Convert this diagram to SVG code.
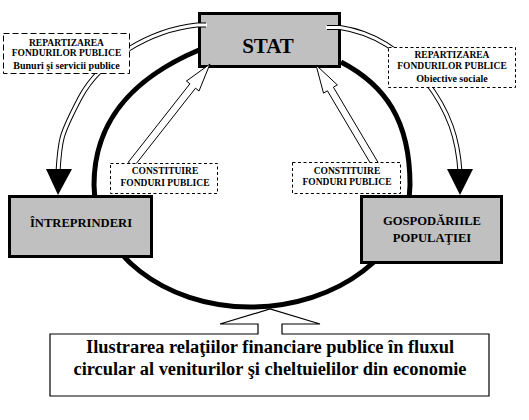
<svg xmlns="http://www.w3.org/2000/svg" width="529" height="420" viewBox="0 0 529 420">
<style>
text{font-family:"Liberation Serif","Times New Roman",serif;font-weight:bold;fill:#000;text-anchor:middle}
.main{fill:#c0c0c0;stroke:#000;stroke-width:3}
.dashA{fill:#fff;stroke:#000;stroke-width:1;stroke-dasharray:6 3}
.dashB{fill:#fff;stroke:#000;stroke-width:1;stroke-dasharray:3 2.5}
.small{font-size:9.5px}
.low{font-size:10px}
.mid{font-size:12.6px}
.big{font-size:18.4px}
.dlo{fill:none;stroke:#000;stroke-width:5}
.dli{fill:none;stroke:#fff;stroke-width:3}
.hollow{fill:#fff;stroke:#000;stroke-width:1}
.head{fill:#000;stroke:none}
</style>
<rect width="529" height="420" fill="#fff"/>
<g id="stat">
<rect class="main" x="199.5" y="13.5" width="140" height="53"/>
<text x="268" y="53" style="font-size:21px">STAT</text>
</g>
<g id="connectors">
<path d="M199,50 C140,75 94,115 94,185 C94,252 164,307 250,307 C338,307 410,252 410,185 C410,120 385,85 341,62" fill="none" stroke="#000" stroke-width="5"/>
<path class="dlo" d="M206,25 L197,25 C150,30 100,60 80,98 S60,140 58,172"/>
<path class="dli" d="M207,25 L197,25 C150,30 100,60 80,98 S60,140 58,172"/>
<path class="dlo" d="M327,27.5 L340,27.5 C370,32 400,48 425,80 S458,140 460,172"/>
<path class="dli" d="M326,27.5 L340,27.5 C370,32 400,48 425,80 S458,140 460,172"/>
<polygon class="head" points="46,169 72,169 58,195"/>
<polygon class="head" points="447,169 473,169 460,195"/>
<polygon class="hollow" points="128.3,162.2 189.9,83.8 186.4,81.1 210,64 199,91 195.5,88.2 133.9,166.6"/>
<polygon class="hollow" points="372.5,166.8 327.4,90.8 323.5,93.1 316,65 337.3,84.9 333.4,87.2 378.5,163.2"/>
</g>
<g id="rep-left">
<rect class="dashA" x="3.5" y="33.5" width="126" height="40"/>
<text class="small" x="66.5" y="45.5">REPARTIZAREA</text>
<text class="small" x="66.5" y="56">FONDURILOR PUBLICE</text>
<text class="low" x="66.5" y="68.5">Bunuri  şi servicii publice</text>
</g>
<g id="rep-right">
<rect class="dashB" x="388.5" y="47.5" width="127" height="40"/>
<text class="small" x="452" y="57.5">REPARTIZAREA</text>
<text class="small" x="452" y="69">FONDURILOR PUBLICE</text>
<text class="low" x="452" y="81.5">Obiective  sociale</text>
</g>
<g id="const-left">
<rect class="dashB" x="110.5" y="163.5" width="107" height="30"/>
<text class="small" x="165" y="174">CONSTITUIRE</text>
<text class="small" x="165" y="186">FONDURI PUBLICE</text>
</g>
<g id="const-right">
<rect class="dashB" x="292.5" y="162.5" width="108" height="31"/>
<text class="small" x="347" y="174">CONSTITUIRE</text>
<text class="small" x="347" y="185">FONDURI PUBLICE</text>
</g>
<g id="intreprinderi">
<rect class="main" x="9.5" y="196.5" width="142" height="60"/>
<text class="mid" x="81" y="227">ÎNTREPRINDERI</text>
</g>
<g id="gospodarii">
<rect class="main" x="361.5" y="196.5" width="140" height="66"/>
<text class="mid" x="432" y="225">GOSPODĂRIILE</text>
<text class="mid" x="432" y="242">POPULAŢIEI</text>
</g>
<g id="caption">
<path d="M258,334 V324 H220 L270,309 L320,324 H282 V334 H489 V396 H50 V334 Z" fill="#fff" stroke="#000" stroke-width="1.2"/>
<text class="big" x="270" y="353">Ilustrarea relaţiilor financiare publice în fluxul</text>
<text class="big" x="270" y="375">circular al veniturilor şi cheltuielilor din economie</text>
</g>
</svg>
